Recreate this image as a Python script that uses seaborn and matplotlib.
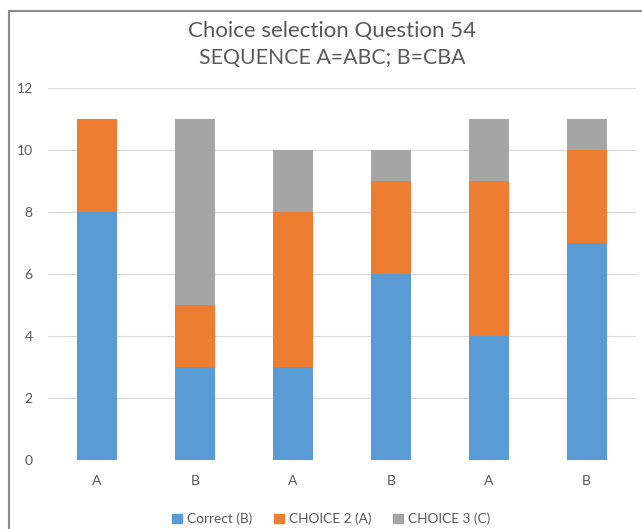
import matplotlib
matplotlib.use("Agg")
import matplotlib.pyplot as plt
import matplotlib.patches as mpatches
import numpy as np
import pandas as pd
import seaborn as sns

# === Data ===
groups = ["A", "B", "A", "B", "A", "B"]
correct_b = [8, 3, 3, 6, 4, 7]
choice2_a = [3, 2, 5, 3, 5, 3]
choice3_c = [0, 6, 2, 1, 2, 1]
series_names = ["Correct (B)", "CHOICE 2 (A)", "CHOICE 3 (C)"]
colors = ["#5B9BD5", "#ED7D31", "#A5A5A5"]

sns.set_theme(style="white")
plt.rcParams["font.family"] = ["Lato", "DejaVu Sans"]
text_col = "#595959"

df = pd.DataFrame({
    "pos": range(len(groups)),
    "c1": correct_b,
    "c2": choice2_a,
    "c3": choice3_c,
})
# cumulative heights for stacked look
df["top1"] = df["c1"]
df["top2"] = df["c1"] + df["c2"]
df["top3"] = df["top2"] + df["c3"]

fig = plt.figure(figsize=(6.42, 5.29), dpi=100)
ax = fig.add_axes([0.075, 0.1304, 0.915, 0.7032])

# draw from the tallest stack down so each layer covers the one above it
for col, color in zip(["top3", "top2", "top1"], colors[::-1]):
    sns.barplot(data=df, x="pos", y=col, color=color, width=0.41,
                saturation=1, ax=ax, linewidth=0)

ax.set_ylim(0, 12)
ax.set_yticks(range(0, 13, 2))
ax.set_xlim(-0.5, len(groups) - 0.5)
ax.set_xticks(range(len(groups)))
ax.set_xticklabels(groups)
ax.set_xlabel("")
ax.set_ylabel("")
ax.tick_params(axis="both", length=0, labelsize=10, colors=text_col)
ax.tick_params(axis="x", pad=11)
ax.tick_params(axis="y", pad=11)
ax.yaxis.grid(True, color="#D9D9D9", linewidth=0.8)
ax.set_axisbelow(True)
for s in ax.spines.values():
    s.set_visible(False)

# titles
fig.text(0.517, 1 - 31 / 529, "Choice selection Question 54", ha="center", va="center",
         fontsize=16, color=text_col)
fig.text(0.517, 1 - 58 / 529, "SEQUENCE A=ABC; B=CBA", ha="center", va="center",
         fontsize=15.3, color=text_col)

# legend
handles = [mpatches.Patch(color=c, label=n) for c, n in zip(colors, series_names)]
fig.legend(handles=handles, loc="center", bbox_to_anchor=(0.516, 1 - 519 / 529), ncol=3,
           frameon=False, fontsize=9.8, handlelength=0.7, handleheight=0.7,
           handletextpad=0.4, columnspacing=1.6, labelcolor=text_col)

# chart border
fig.add_artist(plt.Line2D([8.5 / 642, 8.5 / 642], [0, 1 - 11 / 529],
                          transform=fig.transFigure, color="#8C8C8C", lw=1.5))
fig.add_artist(plt.Line2D([8.5 / 642, 1], [1 - 11 / 529, 1 - 11 / 529],
                          transform=fig.transFigure, color="#8C8C8C", lw=1.5))

fig.savefig("out.png", dpi=100)
